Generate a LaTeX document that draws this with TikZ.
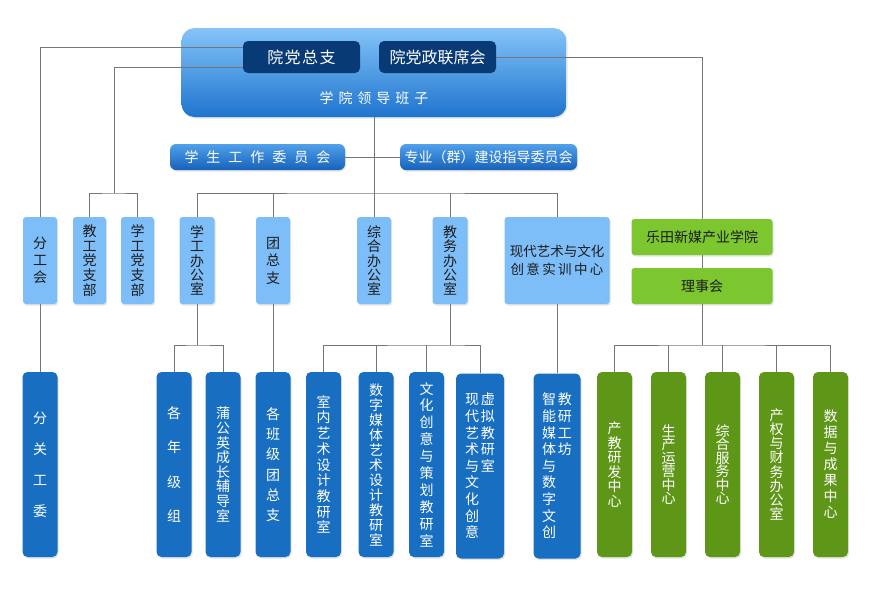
\documentclass[tikz,border=0pt]{standalone}
\usepackage{fontspec}
\setmainfont{Noto Sans CJK SC}
\usepackage{xcolor}
\usepackage{tikz}
\usetikzlibrary{shadows}

\definecolor{leadtop}{RGB}{132,196,248}
\definecolor{leadbot}{RGB}{30,116,206}
\definecolor{navy}{RGB}{8,58,118}
\definecolor{comtop}{RGB}{80,160,234}
\definecolor{combot}{RGB}{22,98,186}
\definecolor{midblue}{RGB}{126,190,248}
\definecolor{botblue}{RGB}{24,110,192}
\definecolor{midgreen}{RGB}{124,198,48}
\definecolor{botgreen}{RGB}{94,150,24}
\definecolor{linegray}{RGB}{118,118,118}
\definecolor{txtdark}{RGB}{28,28,28}

\newcommand{\wgap}{\hspace{5pt}}
\newcommand{\cgap}{\hspace{8pt}}
\newcommand{\vfont}[1]{\fontsize{14}{#1}\selectfont\lineskiplimit=-20pt\relax}

\tikzset{
  boxshadow/.style={drop shadow={opacity=0.22, shadow xshift=1pt, shadow yshift=-1.5pt}},
  midbox/.style={rectangle, rounded corners=3pt, fill=midblue, boxshadow, minimum width=34pt, minimum height=87pt, inner sep=0pt, align=center, text=txtdark},
  botbox/.style={rectangle, rounded corners=5pt, fill=botblue, boxshadow, minimum width=35pt, minimum height=185pt, inner sep=0pt, align=center, text=white},
  greenbox/.style={rectangle, rounded corners=3pt, fill=midgreen, boxshadow, minimum width=141pt, minimum height=36pt, inner sep=0pt, text=txtdark, font=\fontsize{14}{16}\selectfont},
  greenbot/.style={botbox, fill=botgreen},
  link/.style={draw=linegray, line width=0.9pt}
}

\begin{document}
\begin{tikzpicture}[x=1pt, y=-1pt]
\useasboundingbox (0,0) rectangle (871,595);

% top level
\node (lead) [rectangle, rounded corners=13pt, top color=leadtop, bottom color=leadbot, boxshadow, minimum width=385pt, minimum height=89pt] at (374,72.5) {};
\node (dzz) [rectangle, rounded corners=5pt, fill=navy, minimum width=117pt, minimum height=32pt, text=white, font=\fontsize{16}{18}\selectfont] at (301.5,57) {院\hspace{1.5pt}党\hspace{1.5pt}总\hspace{1.5pt}支};
\node (lxh) [rectangle, rounded corners=5pt, fill=navy, minimum width=117pt, minimum height=32pt, text=white, font=\fontsize{16}{18}\selectfont] at (437.5,57) {院党政联席会};
\node (ldbz) [text=white, font=\fontsize{14}{16}\selectfont] at (374,98) {学\wgap 院\wgap 领\wgap 导\wgap 班\wgap 子};

% committees
\node (xgw) [rectangle, rounded corners=6pt, top color=comtop, bottom color=combot, boxshadow, minimum width=175pt, minimum height=26pt, text=white, font=\fontsize{14}{16}\selectfont] at (257.5,157) {学\cgap 生\cgap 工\cgap 作\cgap 委\cgap 员\cgap 会};
\node (zyw) [rectangle, rounded corners=6pt, top color=comtop, bottom color=combot, boxshadow, minimum width=177pt, minimum height=26pt, text=white, font=\fontsize{14}{16}\selectfont] at (488.5,157) {专业（群）建设指导委员会};

% middle row
\node (fgh) [midbox, font=\vfont{17}] at (40,260.5) {分\\工\\会};
\node (jgdzb) [midbox, minimum width=33pt, font=\vfont{14.6}] at (89.5,260.5) {教\\工\\党\\支\\部};
\node (xgdzb) [midbox, minimum width=33pt, font=\vfont{14.6}] at (137.5,260.5) {学\\工\\党\\支\\部};
\node (xgbgs) [midbox, minimum width=35pt, font=\vfont{14.4}] at (197,260.5) {学\\工\\办\\公\\室};
\node (tzz) [midbox, font=\vfont{17.5}] at (273,260.5) {团\\总\\支};
\node (zhbgs) [midbox, font=\vfont{14.4}] at (374,260.5) {综\\合\\办\\公\\室};
\node (jwbgs) [midbox, minimum width=35pt, font=\vfont{14.4}] at (450,260.5) {教\\务\\办\\公\\室};
\node (sxzx) [midbox, minimum width=105pt, font=\fontsize{13.5}{18}\selectfont] at (557,260.5) {现代艺术与文化\\创\hspace{2.4pt}意\hspace{2.4pt}实\hspace{2.4pt}训\hspace{2.4pt}中\hspace{2.4pt}心};
\node (letian) [greenbox] at (702,237) {乐田新媒产业学院};
\node (lsh) [greenbox] at (702,286) {理事会};

% bottom row
\node (fggw) [botbox, font=\vfont{31}] at (40,464.5) {分\\关\\工\\委};
\node (gnjz) [botbox, font=\vfont{34.5}] at (174,464.5) {各\\年\\级\\组};
\node (pgy) [botbox, font=\vfont{14.6}] at (223,464.5) {蒲\\公\\英\\成\\长\\辅\\导\\室};
\node (gbjt) [botbox, font=\vfont{20.3}] at (273,464.5) {各\\班\\级\\团\\总\\支};
\node (snsj) [botbox, font=\vfont{15.7}] at (323.5,464.5) {室\\内\\艺\\术\\设\\计\\教\\研\\室};
\node (szmt) [botbox, font=\vfont{15}] at (376,464.5) {数\\字\\媒\\体\\艺\\术\\设\\计\\教\\研\\室};
\node (whcy) [botbox, font=\vfont{16.9}] at (426.5,464.5) {文\\化\\创\\意\\与\\策\\划\\教\\研\\室};
\node (xnjy) [botbox, minimum width=48pt, align=left, font=\vfont{16.6}] at (480,466) {现\hspace{2pt}虚\\代\hspace{2pt}拟\\艺\hspace{2pt}教\\术\hspace{2pt}研\\与\hspace{2pt}室\\文\\化\\创\\意};
\node (jygf) [botbox, minimum width=47pt, align=left, font=\vfont{16.6}] at (557,466) {智\hspace{2pt}教\\能\hspace{2pt}研\\媒\hspace{2pt}工\\体\hspace{2pt}坊\\与\\数\\字\\文\\创};
\node (cjyf) [greenbot, font=\vfont{14.6}] at (614.5,464.5) {产\\教\\研\\发\\中\\心};
\node (scyy) [greenbot, font=\vfont{13.5}] at (668.5,464.5) {生\\产\\运\\营\\中\\心};
\node (zhfw) [greenbot, font=\vfont{13.5}] at (722.5,464.5) {综\\合\\服\\务\\中\\心};
\node (cqcw) [greenbot, font=\vfont{14.2}] at (776.5,464.5) {产\\权\\与\\财\\务\\办\\公\\室};
\node (sjcg) [greenbot, font=\vfont{16}] at (830.5,464.5) {数\\据\\与\\成\\果\\中\\心};

% connectors
\coordinate (bus) at (374,193);
\coordinate (dzb) at (114,193);
\coordinate (lvB) at (0,345);
\coordinate (b1) at (xgbgs.south |- lvB);
\coordinate (b2) at (jwbgs.south |- lvB);
\coordinate (b3) at (lsh.south |- lvB);

\draw[link] ([yshift=10pt]dzz.west) -| (fgh.north);
\draw[link] ([yshift=-10pt]dzz.west) -| (dzb);
\draw[link] (jgdzb.north) |- (dzb) -| (xgdzb.north);
\draw[link] (lxh.east) -| (letian.north);
\draw[link] (lead.south) -- (zhbgs.north);
\draw[link] (xgw.east) -- (zyw.west);
\draw[link] (xgbgs.north) |- (bus) -| (sxzx.north);
\draw[link] (tzz.north) -- (tzz.north |- bus);
\draw[link] (jwbgs.north) -- (jwbgs.north |- bus);
\draw[link] (letian.south) -- (lsh.north);

\draw[link] (fgh.south) -- (fggw.north);
\draw[link] (xgbgs.south) -- (b1);
\draw[link] (gnjz.north) |- (b1) -| (pgy.north);
\draw[link] (tzz.south) -- (gbjt.north);
\draw[link] (jwbgs.south) -- (b2);
\draw[link] (snsj.north) |- (b2) -| (xnjy.north);
\draw[link] (szmt.north) -- (szmt.north |- b2);
\draw[link] (whcy.north) -- (whcy.north |- b2);
\draw[link] (sxzx.south) -- (jygf.north);
\draw[link] (lsh.south) -- (b3);
\draw[link] (cjyf.north) |- (b3) -| (sjcg.north);
\foreach \n in {scyy,zhfw,cqcw}
  \draw[link] (\n.north) -- (\n.north |- b3);
\end{tikzpicture}
\end{document}
